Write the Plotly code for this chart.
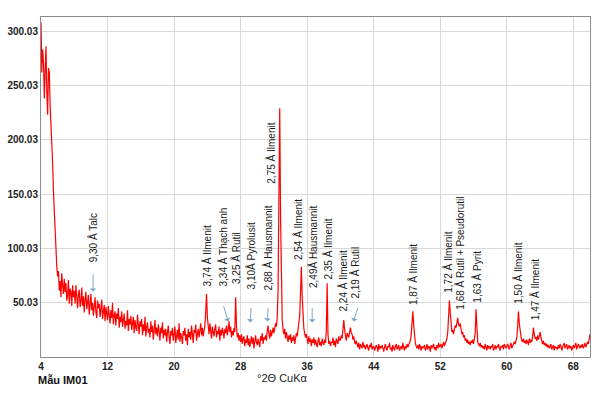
import plotly.graph_objects as go

# XRD scan: 2-theta from 4.0 deg, step 0.1 deg
scan_start = 4.0
scan_step = 0.1
intensity = [
    308, 262, 283, 271, 238, 255, 286, 244, 223, 266,   # 4
    262, 231, 216, 200, 178, 152, 130, 110, 94, 83,      # 5
    74, 79, 61, 70, 55, 77, 66, 58, 72, 60,              # 6
    68, 52, 57, 71, 49, 63, 60, 47, 66, 55,              # 7
    61, 49, 66, 53, 45, 58, 62, 46, 51, 64,              # 8
    47, 56, 41, 53, 60, 44, 49, 57, 39, 52,              # 9
    58, 43, 50, 38, 47, 55, 41, 36, 52, 45,              # 10
    49, 37, 44, 53, 35, 41, 48, 33, 46, 40,              # 11
    34, 47, 39, 31, 43, 36, 50, 30, 38, 42,              # 12
    29, 40, 35, 45, 27, 37, 32, 42, 28, 36,              # 13
    40, 26, 33, 29, 43, 24, 35, 30, 38, 25,              # 14
    31, 37, 22, 34, 27, 24, 39, 26, 21, 33,              # 15
    28, 35, 20, 30, 24, 37, 19, 27, 32, 22,              # 16
    26, 18, 33, 23, 29, 16, 25, 34, 21, 27,              # 17
    19, 30, 24, 15, 27, 22, 32, 17, 25, 20,              # 18
    26, 14, 22, 29, 18, 12, 24, 20, 27, 15,              # 19
    21, 28, 13, 19, 25, 16, 31, 14, 22, 18,              # 20
    12, 24, 20, 27, 15, 21, 11, 26, 18, 23,              # 21
    16, 29, 19, 13, 25, 22, 30, 15, 21, 26,              # 22
    18, 24, 31, 20, 27, 19, 25, 29, 41, 58,              # 23
    37, 27, 21, 31, 24, 17, 28, 22, 19, 26,              # 24
    30, 18, 24, 21, 28, 15, 25, 20, 27, 23,              # 25
    17, 26, 22, 29, 20, 25, 33, 23, 28, 18,              # 26
    24, 20, 27, 23, 55, 29, 18, 22, 15, 20,              # 27
    14, 21, 12, 17, 19, 10, 16, 13, 20, 11,              # 28
    17, 9, 15, 19, 12, 18, 8, 14, 20, 13,                # 29
    11, 17, 14, 9, 19, 15, 22, 12, 18, 16,               # 30
    20, 15, 24, 29, 21, 17, 25, 19, 23, 27,              # 31
    22, 26, 31, 28, 37, 62, 140, 229, 128, 56,           # 32
    34, 25, 21, 26, 17, 23, 19, 14, 20, 16,              # 33
    21, 13, 18, 15, 20, 12, 17, 22, 19, 25,              # 34
    29, 38, 60, 83, 56, 36, 26, 22, 18, 21,              # 35
    15, 12, 19, 14, 17, 10, 16, 13, 18, 11,              # 36
    16, 12, 9, 15, 18, 11, 14, 10, 17, 13,               # 37
    11, 16, 13, 24, 68, 21, 12, 15, 10, 14,              # 38
    13, 18, 11, 15, 9, 17, 14, 12, 19, 15,               # 39
    16, 20, 17, 26, 34, 25, 18, 15, 22, 19,              # 40
    18, 23, 27, 22, 21, 16, 19, 14, 12, 15,              # 41
    11, 9, 13, 7, 12, 10, 8, 14, 9, 11,                  # 42
    7, 10, 12, 8, 6, 11, 9, 13, 7, 9,                    # 43
    10, 6, 8, 11, 9, 5, 12, 7, 10, 8,                    # 44
    11, 7, 5, 9, 12, 8, 6, 10, 9, 13,                    # 45
    7, 9, 5, 11, 8, 6, 10, 12, 7, 9,                     # 46
    11, 6, 8, 10, 7, 13, 9, 6, 10, 8,                    # 47
    12, 9, 11, 13, 15, 20, 31, 42, 30, 18,               # 48
    13, 10, 8, 11, 7, 12, 9, 6, 10, 8,                   # 49
    9, 11, 6, 8, 12, 7, 10, 9, 5, 11,                    # 50
    8, 10, 12, 7, 9, 6, 11, 8, 13, 9,                    # 51
    10, 12, 8, 11, 14, 10, 13, 15, 17, 23,               # 52
    37, 52, 41, 28, 23, 25, 21, 26, 29, 27,              # 53
    32, 36, 30, 28, 31, 24, 21, 23, 18, 20,              # 54
    15, 17, 13, 16, 12, 14, 11, 15, 13, 16,              # 55
    12, 17, 22, 44, 21, 14, 12, 10, 13, 9,               # 56
    11, 8, 10, 7, 12, 9, 6, 11, 8, 10,                   # 57
    7, 10, 9, 12, 6, 8, 11, 7, 10, 9,                    # 58
    12, 8, 6, 10, 9, 11, 7, 12, 9, 8,                    # 59
    10, 12, 9, 7, 11, 13, 8, 10, 12, 14,                 # 60
    12, 15, 18, 28, 42, 31, 23, 19, 15, 14,              # 61
    17, 13, 15, 12, 16, 14, 11, 17, 13, 16,              # 62
    14, 19, 27, 21, 17, 18, 15, 20, 16, 19,              # 63
    23, 18, 14, 12, 15, 11, 13, 10, 12, 9,               # 64
    11, 8, 10, 12, 7, 9, 11, 6, 10, 8,                   # 65
    9, 7, 11, 8, 12, 10, 6, 9, 11, 13,                   # 66
    8, 10, 12, 7, 9, 11, 8, 10, 6, 9,                    # 67
    11, 8, 10, 13, 7, 9, 12, 10, 8, 11,                  # 68
    9, 12, 8, 10, 13, 9, 11, 14, 12, 17,                 # 69
    21,                                                  # 70
]

x_ticks = [4, 12, 20, 28, 36, 44, 52, 60, 68]
y_ticks = [50.03, 100.03, 150.03, 200.03, 250.03, 300.03]
y_tick_labels = ["50.03", "100.03", "150.03", "200.03", "250.03", "300.03"]

# Phase labels: text, 2theta of label centre, intensity of label centre
label_texts = ["9,30 Å Talc", "3,74 Å Ilmenit", "3,34 Å Thạch anh", "3,25 Å Rutil",
               "3,10Å Pyrolusit", "2,88 Å Hausmannit", "2,75 Å Ilmenit", "2,54 Å Ilmenit",
               "2,49Å Hausmannit", "2,35 Å Ilmenit", "2,24 Å Ilmenit", "2,19 Å Rutil",
               "1,87 Å Ilmenit", "1,72 Å Ilmenit", "1,68 Å Rutil + Pseudorutil", "1,63 Å Pyrit",
               "1,50 Å Ilmenit", "1,47 Å Ilmenit"]
label_x = [10.26, 23.98, 25.90, 27.47, 29.27, 31.32, 31.68, 34.93, 36.73, 38.54,
           40.34, 41.79, 48.65, 52.98, 54.42, 56.47, 61.40, 63.33]
label_y = [109.3, 92.8, 101.0, 91.4, 92.8, 100.1, 187.4, 117.1, 101.5, 99.2,
           69.8, 78.1, 75.8, 87.2, 95.5, 74.4, 77.1, 62.0]

# Arrows: tail (x, y) -> head (x, y)
arrow_tail_x = [10.26, 25.90, 29.27, 31.32, 36.60, 42.15]
arrow_tail_y = [77.6, 48.2, 46.4, 46.4, 46.4, 46.4]
arrow_head_x = [10.26, 26.50, 29.15, 31.20, 36.60, 41.55]
arrow_head_y = [60.1, 32.6, 31.7, 32.6, 31.7, 32.6]

FONT = "Liberation Sans, Arial, sans-serif"

fig = go.Figure()
fig.add_trace(go.Scatter(
    y=intensity, x0=scan_start, dx=scan_step, mode="lines",
    line=dict(color="#FF0000", width=1.2), showlegend=False, hoverinfo="skip"))

annotations = []
for t, x, y in zip(label_texts, label_x, label_y):
    annotations.append(dict(x=x, y=y, xref="x", yref="y", text=t, textangle=-90,
                            showarrow=False, xanchor="center", yanchor="middle",
                            font=dict(family=FONT, size=10, color="#1a1a1a")))
for tx, ty, hx, hy in zip(arrow_tail_x, arrow_tail_y, arrow_head_x, arrow_head_y):
    annotations.append(dict(x=hx, y=hy, ax=tx, ay=ty, xref="x", yref="y",
                            axref="x", ayref="y", text="", showarrow=True,
                            arrowhead=1, arrowsize=1.1, arrowwidth=1, arrowcolor="#7FA7C9"))
annotations.append(dict(x=0.439, y=-0.062, xref="paper", yref="paper", text="°2Θ CuKα",
                        showarrow=False, xanchor="center", yanchor="middle",
                        font=dict(family=FONT, size=11, color="#222222")))
annotations.append(dict(x=-0.009, y=-0.068, xref="paper", yref="paper", text="<b>Mẫu IM01</b>",
                        showarrow=False, xanchor="left", yanchor="middle",
                        font=dict(family=FONT, size=11, color="#111111")))

fig.update_layout(
    width=600, height=394,
    margin=dict(l=41, r=10, t=17, b=37, autoexpand=False),
    paper_bgcolor="white", plot_bgcolor="white",
    annotations=annotations,
    xaxis=dict(range=[4, 70], tickvals=x_ticks, ticktext=[f"<b>{v}</b>" for v in x_ticks],
               showgrid=True, gridcolor="#D9D9D9", gridwidth=1, zeroline=False,
               showline=True, linecolor="#8C8C8C", linewidth=1, mirror=True, ticks="",
               automargin=False,
               tickfont=dict(family=FONT, size=10, color="#222222")),
    yaxis=dict(range=[0.03, 313], tickvals=y_ticks, ticktext=[f"<b>{v}</b>" for v in y_tick_labels],
               showgrid=True, gridcolor="#D9D9D9", gridwidth=1, zeroline=False,
               showline=True, linecolor="#8C8C8C", linewidth=1, mirror=True, ticks="",
               automargin=False,
               tickfont=dict(family=FONT, size=10, color="#222222")),
)

fig.write_html("out.html", config={"displayModeBar": False},
               post_script="document.body.style.margin='0';document.body.style.overflow='hidden';")
